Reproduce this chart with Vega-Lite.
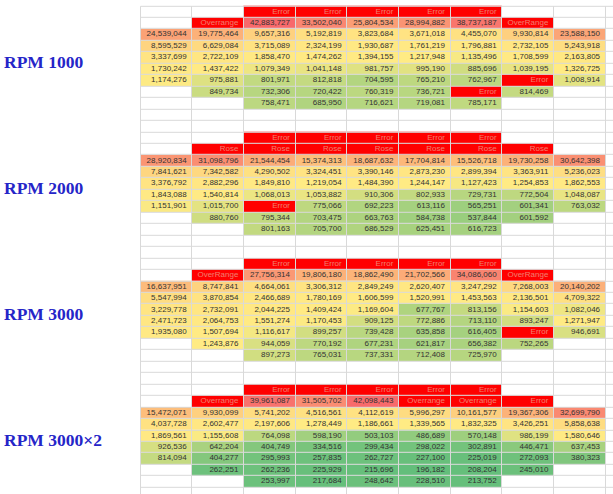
{
  "$schema": "https://vega.github.io/schema/vega-lite/v6.json",
  "width": 473,
  "height": 488.2,
  "autosize": "none",
  "padding": {"left": 140, "top": 5.8, "right": 0, "bottom": 0},
  "background": "#ffffff",
  "config": {"view": {"stroke": null}},
  "data": {"values": [
    {"r":0,"c":2,"t":"Error"},{"r":0,"c":3,"t":"Error"},{"r":0,"c":4,"t":"Error"},{"r":0,"c":5,"t":"Error"},{"r":0,"c":6,"t":"Error"},
    {"r":1,"c":1,"t":"Overrange"},{"r":1,"c":2,"v":42883727},{"r":1,"c":3,"v":33502040},{"r":1,"c":4,"v":25804534},{"r":1,"c":5,"v":28994882},{"r":1,"c":6,"v":38737187},{"r":1,"c":7,"t":"OverRange"},
    {"r":2,"c":0,"v":24539044},{"r":2,"c":1,"v":19775464},{"r":2,"c":2,"v":9657316},{"r":2,"c":3,"v":5192819},{"r":2,"c":4,"v":3823684},{"r":2,"c":5,"v":3671018},{"r":2,"c":6,"v":4455070},{"r":2,"c":7,"v":9930814},{"r":2,"c":8,"v":23588150},
    {"r":3,"c":0,"v":8595529},{"r":3,"c":1,"v":6629084},{"r":3,"c":2,"v":3715089},{"r":3,"c":3,"v":2324199},{"r":3,"c":4,"v":1930687},{"r":3,"c":5,"v":1761219},{"r":3,"c":6,"v":1796881},{"r":3,"c":7,"v":2732105},{"r":3,"c":8,"v":5243918},
    {"r":4,"c":0,"v":3337699},{"r":4,"c":1,"v":2722109},{"r":4,"c":2,"v":1858470},{"r":4,"c":3,"v":1474262},{"r":4,"c":4,"v":1394155},{"r":4,"c":5,"v":1217948},{"r":4,"c":6,"v":1135496},{"r":4,"c":7,"v":1708599},{"r":4,"c":8,"v":2163805},
    {"r":5,"c":0,"v":1730242},{"r":5,"c":1,"v":1437422},{"r":5,"c":2,"v":1079349},{"r":5,"c":3,"v":1041148},{"r":5,"c":4,"v":981757},{"r":5,"c":5,"v":995190},{"r":5,"c":6,"v":885696},{"r":5,"c":7,"v":1039195},{"r":5,"c":8,"v":1326725},
    {"r":6,"c":0,"v":1174276},{"r":6,"c":1,"v":975881},{"r":6,"c":2,"v":801971},{"r":6,"c":3,"v":812818},{"r":6,"c":4,"v":704595},{"r":6,"c":5,"v":765210},{"r":6,"c":6,"v":762967},{"r":6,"c":7,"t":"Error"},{"r":6,"c":8,"v":1008914},
    {"r":7,"c":1,"v":849734},{"r":7,"c":2,"v":732306},{"r":7,"c":3,"v":720422},{"r":7,"c":4,"v":760319},{"r":7,"c":5,"v":736721},{"r":7,"c":6,"t":"Error"},{"r":7,"c":7,"v":814469},
    {"r":8,"c":2,"v":758471},{"r":8,"c":3,"v":685950},{"r":8,"c":4,"v":716621},{"r":8,"c":5,"v":719081},{"r":8,"c":6,"v":785171},

    {"r":11,"c":2,"t":"Error"},{"r":11,"c":3,"t":"Error"},{"r":11,"c":4,"t":"Error"},{"r":11,"c":5,"t":"Error"},{"r":11,"c":6,"t":"Error"},
    {"r":12,"c":1,"t":"Rose"},{"r":12,"c":2,"t":"Rose"},{"r":12,"c":3,"t":"Rose"},{"r":12,"c":4,"t":"Rose"},{"r":12,"c":5,"t":"Rose"},{"r":12,"c":6,"t":"Rose"},{"r":12,"c":7,"t":"Rose"},
    {"r":13,"c":0,"v":28920834},{"r":13,"c":1,"v":31098796},{"r":13,"c":2,"v":21544454},{"r":13,"c":3,"v":15374313},{"r":13,"c":4,"v":18687632},{"r":13,"c":5,"v":17704814},{"r":13,"c":6,"v":15526718},{"r":13,"c":7,"v":19730258},{"r":13,"c":8,"v":30642398},
    {"r":14,"c":0,"v":7841621},{"r":14,"c":1,"v":7342582},{"r":14,"c":2,"v":4290502},{"r":14,"c":3,"v":3324451},{"r":14,"c":4,"v":3390146},{"r":14,"c":5,"v":2873230},{"r":14,"c":6,"v":2899394},{"r":14,"c":7,"v":3363911},{"r":14,"c":8,"v":5236023},
    {"r":15,"c":0,"v":3376792},{"r":15,"c":1,"v":2882296},{"r":15,"c":2,"v":1849810},{"r":15,"c":3,"v":1219054},{"r":15,"c":4,"v":1484390},{"r":15,"c":5,"v":1244147},{"r":15,"c":6,"v":1127423},{"r":15,"c":7,"v":1254853},{"r":15,"c":8,"v":1862553},
    {"r":16,"c":0,"v":1843088},{"r":16,"c":1,"v":1540814},{"r":16,"c":2,"v":1068013},{"r":16,"c":3,"v":1053882},{"r":16,"c":4,"v":910306},{"r":16,"c":5,"v":802933},{"r":16,"c":6,"v":729731},{"r":16,"c":7,"v":772504},{"r":16,"c":8,"v":1048087},
    {"r":17,"c":0,"v":1151901},{"r":17,"c":1,"v":1015700},{"r":17,"c":2,"t":"Error"},{"r":17,"c":3,"v":775066},{"r":17,"c":4,"v":692223},{"r":17,"c":5,"v":613116},{"r":17,"c":6,"v":565251},{"r":17,"c":7,"v":601341},{"r":17,"c":8,"v":763032},
    {"r":18,"c":1,"v":880760},{"r":18,"c":2,"v":795344},{"r":18,"c":3,"v":703475},{"r":18,"c":4,"v":663763},{"r":18,"c":5,"v":584738},{"r":18,"c":6,"v":537844},{"r":18,"c":7,"v":601592},
    {"r":19,"c":2,"v":801163},{"r":19,"c":3,"v":705700},{"r":19,"c":4,"v":686529},{"r":19,"c":5,"v":625451},{"r":19,"c":6,"v":616723},

    {"r":22,"c":2,"t":"Error"},{"r":22,"c":3,"t":"Error"},{"r":22,"c":4,"t":"Error"},{"r":22,"c":5,"t":"Error"},{"r":22,"c":6,"t":"Error"},
    {"r":23,"c":1,"t":"OverRange"},{"r":23,"c":2,"v":27756314},{"r":23,"c":3,"v":19806180},{"r":23,"c":4,"v":18862490},{"r":23,"c":5,"v":21702566},{"r":23,"c":6,"v":34086060},{"r":23,"c":7,"t":"OverRange"},
    {"r":24,"c":0,"v":16637951},{"r":24,"c":1,"v":8747841},{"r":24,"c":2,"v":4664061},{"r":24,"c":3,"v":3306312},{"r":24,"c":4,"v":2849249},{"r":24,"c":5,"v":2620407},{"r":24,"c":6,"v":3247292},{"r":24,"c":7,"v":7268003},{"r":24,"c":8,"v":20140202},
    {"r":25,"c":0,"v":5547994},{"r":25,"c":1,"v":3870854},{"r":25,"c":2,"v":2466689},{"r":25,"c":3,"v":1780169},{"r":25,"c":4,"v":1606599},{"r":25,"c":5,"v":1520991},{"r":25,"c":6,"v":1453563},{"r":25,"c":7,"v":2136501},{"r":25,"c":8,"v":4709322},
    {"r":26,"c":0,"v":3229778},{"r":26,"c":1,"v":2732091},{"r":26,"c":2,"v":2044225},{"r":26,"c":3,"v":1409424},{"r":26,"c":4,"v":1169604},{"r":26,"c":5,"v":677767},{"r":26,"c":6,"v":813156},{"r":26,"c":7,"v":1154603},{"r":26,"c":8,"v":1082046},
    {"r":27,"c":0,"v":2471723},{"r":27,"c":1,"v":2064753},{"r":27,"c":2,"v":1551274},{"r":27,"c":3,"v":1170453},{"r":27,"c":4,"v":909125},{"r":27,"c":5,"v":772886},{"r":27,"c":6,"v":713110},{"r":27,"c":7,"v":893247},{"r":27,"c":8,"v":1271947},
    {"r":28,"c":0,"v":1935080},{"r":28,"c":1,"v":1507694},{"r":28,"c":2,"v":1116617},{"r":28,"c":3,"v":899257},{"r":28,"c":4,"v":739428},{"r":28,"c":5,"v":635858},{"r":28,"c":6,"v":616405},{"r":28,"c":7,"t":"Error"},{"r":28,"c":8,"v":946691},
    {"r":29,"c":1,"v":1243876},{"r":29,"c":2,"v":944059},{"r":29,"c":3,"v":770192},{"r":29,"c":4,"v":677231},{"r":29,"c":5,"v":621817},{"r":29,"c":6,"v":656382},{"r":29,"c":7,"v":752265},
    {"r":30,"c":2,"v":897273},{"r":30,"c":3,"v":765031},{"r":30,"c":4,"v":737331},{"r":30,"c":5,"v":712408},{"r":30,"c":6,"v":725970},

    {"r":33,"c":2,"t":"Error"},{"r":33,"c":3,"t":"Error"},{"r":33,"c":4,"t":"Error"},{"r":33,"c":5,"t":"Error"},{"r":33,"c":6,"t":"Error"},
    {"r":34,"c":1,"t":"Overrange"},{"r":34,"c":2,"v":39961087},{"r":34,"c":3,"v":31505702},{"r":34,"c":4,"v":42098443},{"r":34,"c":5,"t":"Overrange"},{"r":34,"c":6,"t":"Overrange"},{"r":34,"c":7,"t":"Error"},
    {"r":35,"c":0,"v":15472071},{"r":35,"c":1,"v":9930099},{"r":35,"c":2,"v":5741202},{"r":35,"c":3,"v":4516561},{"r":35,"c":4,"v":4112619},{"r":35,"c":5,"v":5996297},{"r":35,"c":6,"v":10161577},{"r":35,"c":7,"v":19367306},{"r":35,"c":8,"v":32699790},
    {"r":36,"c":0,"v":4037728},{"r":36,"c":1,"v":2602477},{"r":36,"c":2,"v":2197606},{"r":36,"c":3,"v":1278449},{"r":36,"c":4,"v":1186661},{"r":36,"c":5,"v":1339565},{"r":36,"c":6,"v":1832325},{"r":36,"c":7,"v":3426251},{"r":36,"c":8,"v":5858638},
    {"r":37,"c":0,"v":1869561},{"r":37,"c":1,"v":1155608},{"r":37,"c":2,"v":764098},{"r":37,"c":3,"v":598190},{"r":37,"c":4,"v":503103},{"r":37,"c":5,"v":486689},{"r":37,"c":6,"v":570148},{"r":37,"c":7,"v":986199},{"r":37,"c":8,"v":1580646},
    {"r":38,"c":0,"v":926536},{"r":38,"c":1,"v":642204},{"r":38,"c":2,"v":404749},{"r":38,"c":3,"v":334516},{"r":38,"c":4,"v":299434},{"r":38,"c":5,"v":298022},{"r":38,"c":6,"v":302891},{"r":38,"c":7,"v":446471},{"r":38,"c":8,"v":637453},
    {"r":39,"c":0,"v":814094},{"r":39,"c":1,"v":404277},{"r":39,"c":2,"v":295993},{"r":39,"c":3,"v":257835},{"r":39,"c":4,"v":262727},{"r":39,"c":5,"v":227100},{"r":39,"c":6,"v":225019},{"r":39,"c":7,"v":272093},{"r":39,"c":8,"v":380323},
    {"r":40,"c":1,"v":262251},{"r":40,"c":2,"v":262236},{"r":40,"c":3,"v":225929},{"r":40,"c":4,"v":215696},{"r":40,"c":5,"v":196182},{"r":40,"c":6,"v":208204},{"r":40,"c":7,"v":245010},
    {"r":41,"c":2,"v":253997},{"r":41,"c":3,"v":217684},{"r":41,"c":4,"v":248642},{"r":41,"c":5,"v":228510},{"r":41,"c":6,"v":213752}
  ]},
  "encoding": {
    "x": {"field": "c", "type": "ordinal",
      "scale": {"domain": [0,1,2,3,4,5,6,7,8,9], "range": [0, 516.7], "paddingInner": 0, "paddingOuter": 0},
      "axis": {"orient": "top", "labels": false, "ticks": false, "domain": false, "title": null, "grid": true, "bandPosition": 0, "gridColor": "#d9d9d9", "gridWidth": 1}},
    "y": {"field": "r", "type": "ordinal",
      "scale": {"domain": [0,1,2,3,4,5,6,7,8,9,10,11,12,13,14,15,16,17,18,19,20,21,22,23,24,25,26,27,28,29,30,31,32,33,34,35,36,37,38,39,40,41,42], "range": [0, 492.8], "paddingInner": 0, "paddingOuter": 0},
      "axis": {"title": null, "ticks": false, "domain": false, "grid": true, "bandPosition": 0, "gridColor": "#d9d9d9", "gridWidth": 1,
        "labelExpr": "datum.value == 4 ? 'RPM 1000' : datum.value == 15 ? 'RPM 2000' : datum.value == 26 ? 'RPM 3000' : datum.value == 37 ? 'RPM 3000×2' : ''",
        "labelAlign": "left", "labelBaseline": "middle", "labelPadding": 136.5, "labelOffset": 5.7,
        "labelFont": "Liberation Serif", "labelFontWeight": "bold", "labelFontSize": 17.5, "labelColor": "#2525c8",
        "labelOverlap": false, "labelBound": false, "labelFlush": false, "labelLimit": 200}}
  },
  "layer": [
    {
      "transform": [{"filter": "isValid(datum.v)"}],
      "mark": {"type": "rect", "strokeWidth": 0},
      "encoding": {
        "color": {"field": "v", "type": "quantitative",
          "scale": {"domainMid": 1186661, "zero": false, "range": ["#63BE7B", "#FFEB84", "#F8696B"], "interpolate": "rgb"},
          "legend": null}
      }
    },
    {
      "transform": [{"filter": "isValid(datum.t)"}],
      "mark": {"type": "rect", "strokeWidth": 0, "color": "#FF0000"}
    },
    {
      "transform": [{"filter": "isValid(datum.v)"}],
      "mark": {"type": "text", "align": "right", "baseline": "middle", "dx": -5, "font": "Liberation Sans", "fontSize": 8, "color": "#333333"},
      "encoding": {
        "x": {"field": "c", "type": "ordinal", "bandPosition": 1},
        "text": {"field": "v", "type": "quantitative", "format": ","}
      }
    },
    {
      "transform": [{"filter": "isValid(datum.t)"}],
      "mark": {"type": "text", "align": "right", "baseline": "middle", "dx": -5, "font": "Liberation Sans", "fontSize": 8, "color": "#f08070"},
      "encoding": {
        "x": {"field": "c", "type": "ordinal", "bandPosition": 1},
        "text": {"field": "t"}
      }
    }
  ]
}
